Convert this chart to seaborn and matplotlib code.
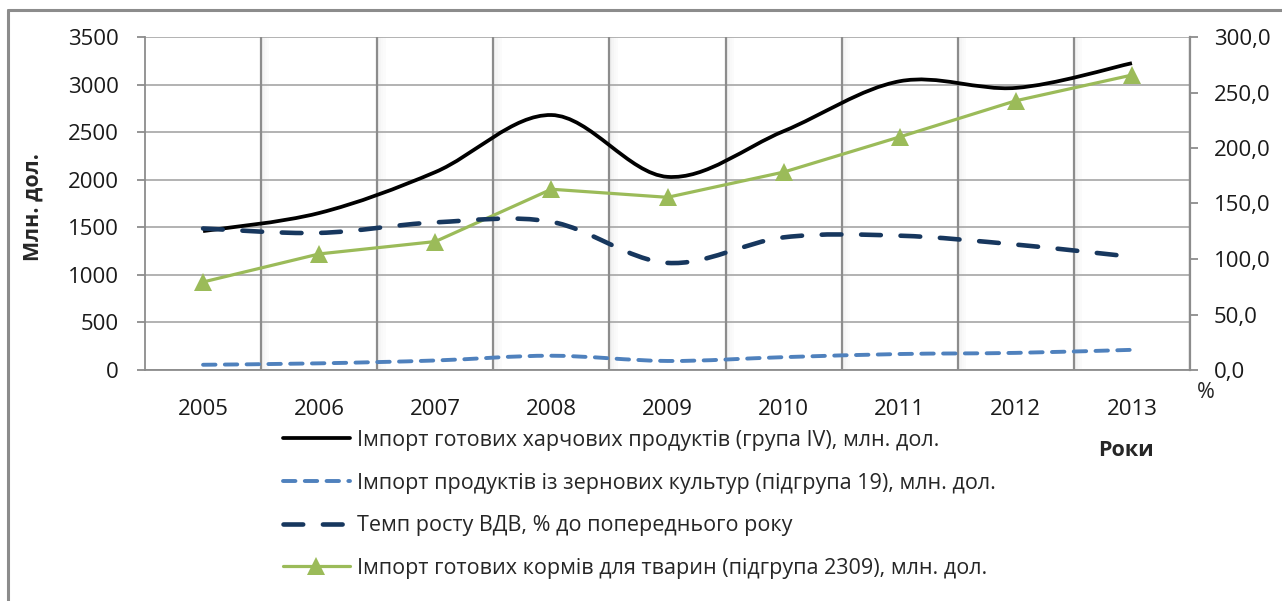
import numpy as np
import pandas as pd
import matplotlib
matplotlib.use('Agg')
import matplotlib.pyplot as plt
import seaborn as sns
from matplotlib.path import Path
from matplotlib.patches import PathPatch
from matplotlib.lines import Line2D

years = ['2005', '2006', '2007', '2008', '2009', '2010', '2011', '2012', '2013']
food_import = [1460, 1650, 2080, 2680, 2030, 2510, 3035, 2965, 3225]
cereal_import = [55, 70, 100, 150, 95, 135, 168, 180, 212]
gva_growth = [127.5, 123.5, 133.0, 133.5, 96.5, 119.5, 121.0, 113.0, 102.0]
feed_import = [925, 1220, 1350, 1900, 1815, 2080, 2450, 2830, 3100]

labels = ['Імпорт готових харчових продуктів (група IV), млн. дол.',
          'Імпорт продуктів із зернових культур (підгрупа 19), млн. дол.',
          'Темп росту ВДВ, % до попереднього року',
          'Імпорт готових кормів для тварин (підгрупа 2309), млн. дол.']

left_ticks = [0, 500, 1000, 1500, 2000, 2500, 3000, 3500]
right_ticks = [0, 50, 100, 150, 200, 250, 300]

c_black = '#000000'
c_light = '#4f81bd'
c_navy = '#17375e'
c_green = '#9bbb59'
c_grid = '#8c8c8c'


def smooth_path(xs, ys):
    # excel-like smoothed line: catmull-rom segments as cubic bezier
    pts = np.column_stack([xs, ys]).astype(float)
    n = len(pts)
    verts = [pts[0]]
    codes = [Path.MOVETO]
    for i in range(n - 1):
        p0 = pts[i - 1] if i > 0 else pts[i]
        p1, p2 = pts[i], pts[i + 1]
        p3 = pts[i + 2] if i + 2 < n else pts[i + 1]
        verts += [p1 + (p2 - p0) / 6, p2 - (p3 - p1) / 6, p2]
        codes += [Path.CURVE4] * 3
    return Path(verts, codes)


sns.set_theme(style='white')
plt.rcParams['font.family'] = ['Open Sans', 'DejaVu Sans']

fig = plt.figure(figsize=(12.82, 6.01), dpi=100)
ax = fig.add_axes([145 / 1282, 1 - 370 / 601, 1045 / 1282, 333 / 601])
ax2 = ax.twinx()

x = np.arange(len(years))
df = pd.DataFrame({'x': x, 'feed': feed_import})

ax.set_xlim(-0.5, len(years) - 0.5)
ax.set_ylim(0, 3500)
ax2.set_ylim(0, 300)

# grid
ax.set_yticks(left_ticks)
ax.grid(axis='y', color='#a6a6a6', lw=1.2, zorder=0)
bounds = np.arange(-0.5, len(years), 1.0)
for b in bounds[1:]:
    for k, a in enumerate([0.10, 0.07, 0.045, 0.025]):
        ax.axvspan(b + k * 0.018, b + (k + 1) * 0.018, color='#7f7f7f', alpha=a, lw=0, zorder=0.5)
    ax.axvline(b, color=c_grid, lw=1.6, zorder=1)

# series
ax.add_patch(PathPatch(smooth_path(x, food_import), fill=False, ec=c_black, lw=2.7, zorder=3))
ax.add_patch(PathPatch(smooth_path(x, cereal_import), fill=False, ec=c_light, lw=2.8,
                       ls=(0, (3.2, 2.4)), capstyle='round', zorder=3))
sns.lineplot(data=df, x='x', y='feed', ax=ax, color=c_green, lw=2.3, marker='^',
             markersize=13, markeredgewidth=0, zorder=4)
ax2.add_patch(PathPatch(smooth_path(x, gva_growth), fill=False, ec=c_navy, lw=3.3,
                        ls=(0, (4.3, 4.3)), capstyle='round', zorder=3))

# axes cosmetics
for a in (ax, ax2):
    for s in a.spines.values():
        s.set_visible(False)
ax.spines['left'].set_visible(True)
ax.spines['left'].set_color(c_grid)
ax.spines['bottom'].set_visible(True)
ax.spines['bottom'].set_color(c_grid)
ax2.spines['right'].set_visible(True)
ax2.spines['right'].set_color(c_grid)
for s in ('left', 'bottom'):
    ax.spines[s].set_linewidth(1.3)
ax2.spines['right'].set_linewidth(1.6)

ax.set_xticks(x)
ax.set_xticklabels(years)
ax.set_xticks(bounds, minor=True)
ax.tick_params(axis='x', which='major', length=0, pad=21, labelsize=16, colors='#1a1a1a')
ax.tick_params(axis='x', which='minor', length=6, width=1.3, color=c_grid, direction='out')
ax.tick_params(axis='y', length=6, width=1.3, color=c_grid, direction='out', pad=13,
               labelsize=16, left=True, labelcolor='#1a1a1a')
ax.set_yticklabels([str(v) for v in left_ticks])
ax2.set_yticks(right_ticks)
ax2.set_yticklabels([f'{v:.1f}'.replace('.', ',') for v in right_ticks])
ax2.tick_params(axis='y', length=6, width=1.3, color=c_grid, direction='out', pad=11,
                labelsize=16, right=True, labelcolor='#1a1a1a')
ax.set_xlabel('')
ax.set_ylabel('')

fig.text(33 / 1282, 1 - 207 / 601, 'Млн. дол.', rotation=90, fontsize=15.5, fontweight='bold',
         ha='center', va='center')
fig.text(1126 / 1282, 1 - 450 / 601, 'Роки', fontsize=15.5, fontweight='bold', ha='center', va='center')
fig.text(1206 / 1282, 1 - 393 / 601, '%', fontsize=15.5, ha='center', va='center')

handles = [Line2D([], [], color=c_black, lw=2.7),
           Line2D([], [], color=c_light, lw=2.8, ls=(0, (3.2, 2.4)), dash_capstyle='round'),
           Line2D([], [], color=c_navy, lw=3.3, ls=(0, (4.3, 4.3)), dash_capstyle='round'),
           Line2D([], [], color=c_green, lw=2.3, marker='^', markersize=13, markeredgewidth=0)]
fig.legend(handles, labels, loc='upper left', bbox_to_anchor=(283 / 1282, 1 - 430 / 601),
           frameon=False, fontsize=15.5, handlelength=3.1, handletextpad=0.33,
           labelspacing=1.0, borderpad=0, borderaxespad=0)

# outer chart frame
fig.add_artist(Line2D([8 / 1282, 8 / 1282], [0, 1 - 10 / 601], color='#8c8c8c', lw=2.2))
fig.add_artist(Line2D([8 / 1282, 1], [1 - 10 / 601, 1 - 10 / 601], color='#8c8c8c', lw=2.2))

fig.savefig('out.png', dpi=100)
